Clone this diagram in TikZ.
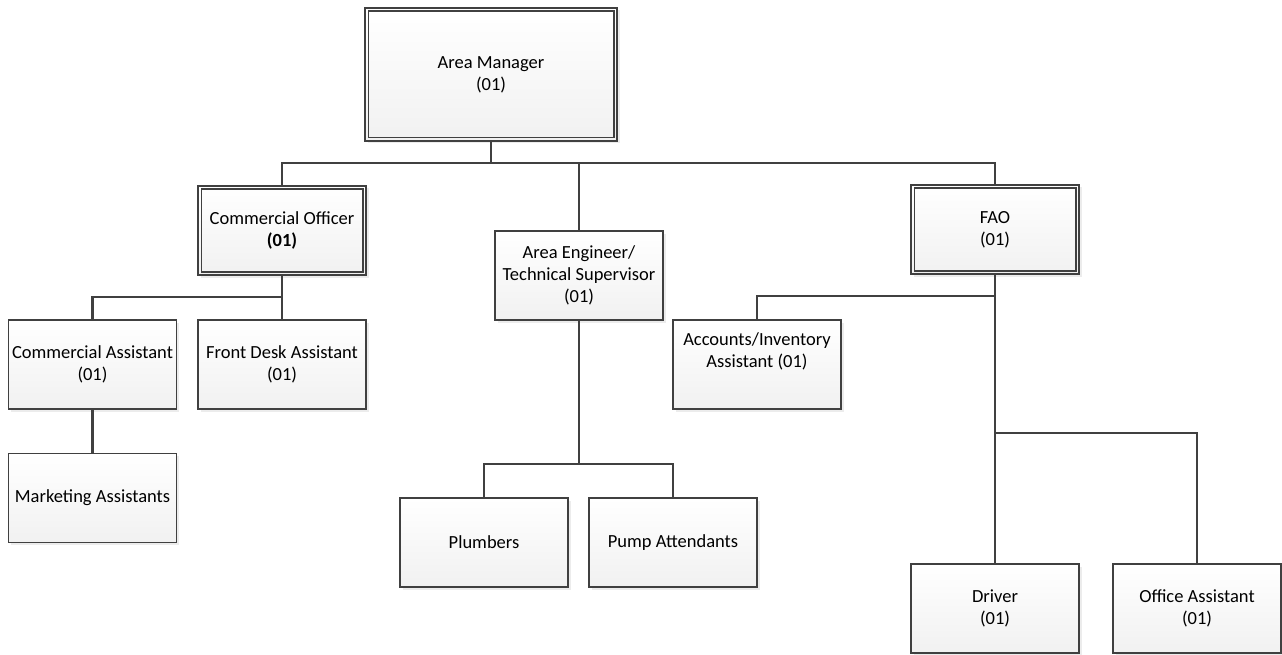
\documentclass[tikz,border=0pt]{standalone}
\usepackage{fontspec}
\setmainfont{Carlito}
\usetikzlibrary{shadows}
\definecolor{linec}{HTML}{404040}
\begin{document}
\begin{tikzpicture}[x=1pt,y=-1pt,
  box/.style={draw=linec, line width=1.5pt, top color=white, bottom color=gray!11,
    minimum width=168pt, minimum height=89pt, inner sep=2pt, align=center,
    font=\fontsize{18.5}{22}\selectfont, text=black,
    drop shadow={opacity=0.15, shadow xshift=2.5pt, shadow yshift=-2.5pt}},
  dbl/.style={draw=linec, line width=1.5pt},
  conn/.style={draw=linec, line width=2.2pt}]
\useasboundingbox (0,0) rectangle (1282,655);

\node[box, minimum width=252pt, minimum height=133pt] (am) at (491,74.5) {Area Manager\\(01)};
\node[box] (co) at (282,230.5) {Commercial Officer\\\textbf{(01)}};
\node[box] (ae) at (579,275.5) {Area Engineer/\\Technical Supervisor\\(01)};
\node[box] (fao) at (995,229.5) {FAO\\(01)};
\node[box] (ca) at (92.5,364.5) {Commercial Assistant\\(01)};
\node[box] (fd) at (282,364.5) {Front Desk Assistant\\(01)};
\node[box] (ma) at (92.5,498) {Marketing Assistants};
\node[box] (acc) at (757,364.5) {Accounts/Inventory\\Assistant (01)\\\strut};
\node[box] (pl) at (484,542.5) {Plumbers};
\node[box] (pa) at (673,542.5) {Pump Attendants};
\node[box] (dr) at (995,608.5) {Driver\\(01)};
\node[box] (oa) at (1197,608.5) {Office Assistant\\(01)};

\foreach \n in {am,co,fao}{
  \draw[dbl] ([shift={(4pt,-4pt)}]\n.north west) rectangle ([shift={(-4pt,4pt)}]\n.south east);
}

\coordinate (b1) at (491,163);
\coordinate (b2) at (282,297);
\coordinate (b3) at (579,464);
\coordinate (b4) at (995,296);
\coordinate (b5) at (995,433);

\draw[conn] (am.south) -- (b1);
\draw[conn] (co.north) -- (co.north |- b1) -- (fao.north |- b1) -- (fao.north);
\draw[conn] (ae.north) -- (ae.north |- b1);
\draw[conn] (co.south) -- (fd.north);
\draw[conn] (ca.north) |- (b2);
\draw[conn] (ca.south) -- (ma.north);
\draw[conn] (ae.south) -- (b3);
\draw[conn] (pl.north) |- (pa.north |- b3) -- (pa.north);
\draw[conn] (fao.south) -- (dr.north);
\draw[conn] (acc.north) |- (b4);
\draw[conn] (b5) -| (oa.north);
\end{tikzpicture}
\end{document}
